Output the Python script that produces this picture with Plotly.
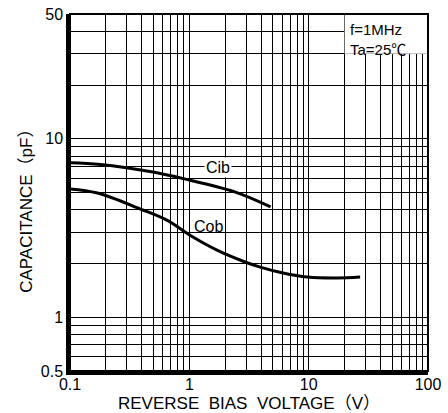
import plotly.graph_objects as go

# ---- data ----
cib_v = [0.1, 0.18, 0.48, 0.91, 2.4, 4.8]
cib_c = [7.33, 7.17, 6.53, 5.96, 5.04, 4.15]

cob_v = [0.1, 0.17, 0.39, 0.66, 1.03, 1.74, 2.93, 3.92, 6.1, 9.7, 17.3, 27]
cob_c = [5.24, 4.97, 4.04, 3.48, 2.86, 2.36, 2.04, 1.91, 1.77, 1.68, 1.66, 1.68]

x_major = [0.1, 1, 10, 100]
x_major_labels = ["0.1", "1", "10", "100"]
y_major = [0.5, 1, 10, 50]
y_major_labels = ["0.5", "1", "10", "50"]

x_grid = [d * k for d in (0.1, 1, 10) for k in range(1, 10)] + [100]
y_grid = [0.1 * k for k in range(5, 10)] + [d * k for d in (1, 10) for k in range(1, 10) if d * k <= 50]


def labels_for(grid, majors, major_labels):
    out = []
    for g in grid:
        lab = ""
        for m, t in zip(majors, major_labels):
            if abs(g - m) < 1e-9 * max(1, m):
                lab = t
        out.append(lab)
    return out


x_text = labels_for(x_grid, x_major, x_major_labels)
y_text = labels_for(y_grid, y_major, y_major_labels)

FONT = "Liberation Sans, Arial, Noto Sans CJK JP, sans-serif"

fig = go.Figure()
fig.add_trace(go.Scatter(x=cib_v, y=cib_c, mode="lines", line=dict(color="black", width=3, shape="spline"),
                         showlegend=False, hoverinfo="skip"))
fig.add_trace(go.Scatter(x=cob_v, y=cob_c, mode="lines", line=dict(color="black", width=3, shape="spline"),
                         showlegend=False, hoverinfo="skip"))

fig.update_layout(
    width=448, height=413,
    margin=dict(l=70, r=20, t=14, b=42),
    plot_bgcolor="white", paper_bgcolor="white",
    font=dict(family=FONT, size=16, color="black"),
    hovermode=False,
    xaxis=dict(type="log", range=[-1, 2], tickvals=x_grid, ticktext=x_text, ticks="",
               showgrid=True, gridcolor="black", gridwidth=1.2, zeroline=False,
               showline=True, linecolor="black", linewidth=3.5, automargin=False,
               ticklabeloverflow="allow", ticklabelstandoff=-4,
               tickfont=dict(size=16),
               title=dict(text="REVERSE\u00a0\u00a0BIAS\u00a0\u00a0VOLTAGE（V）", font=dict(size=17), standoff=6)),
    yaxis=dict(type="log", range=[-0.30103, 1.69897], tickvals=y_grid, ticktext=y_text, ticks="",
               showgrid=True, gridcolor="black", gridwidth=1.2, zeroline=False,
               showline=True, linecolor="black", linewidth=3.5, automargin=False,
               ticklabeloverflow="allow",
               tickfont=dict(size=16)),
    shapes=[
        dict(type="rect", xref="paper", yref="paper", x0=0.767, x1=1, y0=0.889, y1=1,
             fillcolor="white", line=dict(width=0), layer="above"),
        dict(type="rect", xref="paper", yref="paper", x0=0, x1=1, y0=0, y1=1,
             line=dict(color="black", width=2), layer="above"),
    ],
    annotations=[
        dict(text="f=1MHz<br>Ta=25℃", xref="paper", yref="paper", x=0.777, y=0.985,
             xanchor="left", yanchor="top", align="left", showarrow=False, font=dict(size=15)),
        dict(text="Cib", x=0.24, y=0.837, xref="x", yref="y", showarrow=False,
             bgcolor="white", font=dict(size=16), borderpad=1),
        dict(text="Cob", x=0.157, y=0.511, xref="x", yref="y", showarrow=False,
             font=dict(size=16)),
        dict(text="CAPACITANCE（pF）", xref="paper", yref="paper", x=-0.12, y=0.46,
             textangle=-90, showarrow=False, font=dict(size=17), xanchor="center", yanchor="middle"),
    ],
)

fig.write_html("out.html", config={"displayModeBar": False},
               post_script="document.body.style.margin='0px';")
